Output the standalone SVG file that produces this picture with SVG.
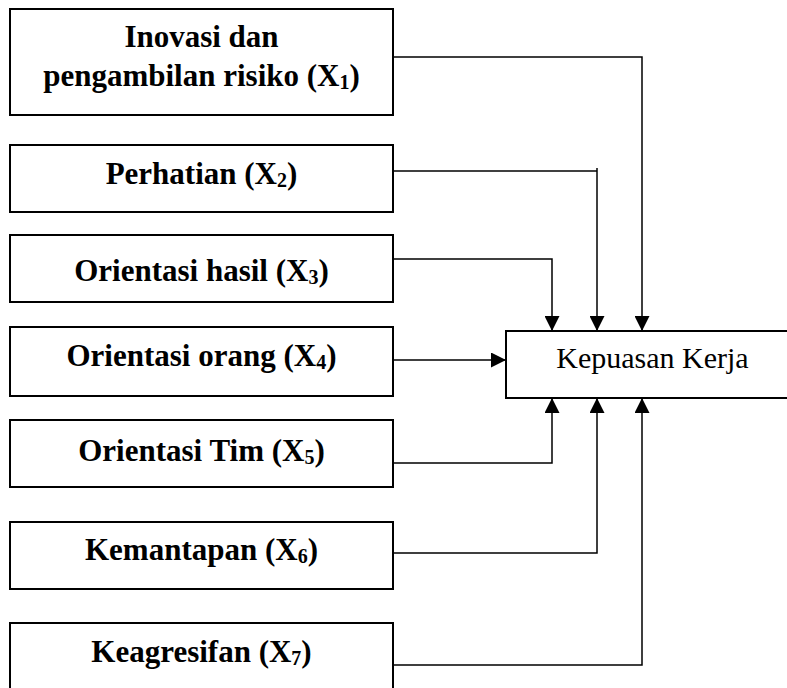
<svg xmlns="http://www.w3.org/2000/svg" width="787" height="688" viewBox="0 0 787 688">
<style>
.box{fill:#fff;stroke:#000;stroke-width:2}
.lbl{font-family:"Liberation Serif","Times New Roman",serif;font-weight:bold;font-size:31px;fill:#000;text-anchor:middle}
.tgt{font-family:"Liberation Serif","Times New Roman",serif;font-size:30px;fill:#000;text-anchor:middle}
.sub{font-size:20px}
.ln{fill:none;stroke:#000;stroke-width:1.5}
</style>
<defs>
<marker id="arr" markerUnits="userSpaceOnUse" markerWidth="15" markerHeight="15" refX="15" refY="7.5" orient="auto">
<path d="M0,0 L15,7.5 L0,15 z" fill="#000"/>
</marker>
</defs>
<rect width="787" height="688" fill="#fff"/>
<g id="connectors">
<path class="ln" d="M393,57 H642 V331" marker-end="url(#arr)"/>
<path class="ln" d="M393,171 H597" />
<path class="ln" d="M597,168 V331" marker-end="url(#arr)"/>
<path class="ln" d="M393,259 H552 V331" marker-end="url(#arr)"/>
<path class="ln" d="M393,360 H506" marker-end="url(#arr)"/>
<path class="ln" d="M393,463 H552 V398" marker-end="url(#arr)"/>
<path class="ln" d="M393,553 H597 V398" marker-end="url(#arr)"/>
<path class="ln" d="M393,665 H642 V398" marker-end="url(#arr)"/>
</g>
<g id="x1">
<rect class="box" x="10" y="9" width="383" height="106"/>
<text class="lbl" x="201.5" y="47">Inovasi dan</text>
<text class="lbl" x="201.5" y="86">pengambilan risiko (X<tspan class="sub" dy="3">1</tspan><tspan dy="-3">)</tspan></text>
</g>
<g id="x2">
<rect class="box" x="10" y="145" width="383" height="67"/>
<text class="lbl" x="201.5" y="184">Perhatian (X<tspan class="sub" dy="3">2</tspan><tspan dy="-3">)</tspan></text>
</g>
<g id="x3">
<rect class="box" x="10" y="235" width="383" height="67"/>
<text class="lbl" x="201.5" y="281">Orientasi hasil (X<tspan class="sub" dy="3">3</tspan><tspan dy="-3">)</tspan></text>
</g>
<g id="x4">
<rect class="box" x="10" y="327" width="383" height="69"/>
<text class="lbl" x="201.5" y="366">Orientasi orang (X<tspan class="sub" dy="3">4</tspan><tspan dy="-3">)</tspan></text>
</g>
<g id="x5">
<rect class="box" x="10" y="420" width="383" height="67"/>
<text class="lbl" x="201.5" y="461">Orientasi Tim (X<tspan class="sub" dy="3">5</tspan><tspan dy="-3">)</tspan></text>
</g>
<g id="x6">
<rect class="box" x="10" y="522" width="383" height="67"/>
<text class="lbl" x="201.5" y="560">Kemantapan (X<tspan class="sub" dy="3">6</tspan><tspan dy="-3">)</tspan></text>
</g>
<g id="x7">
<rect class="box" x="10" y="623" width="383" height="80"/>
<text class="lbl" x="201.5" y="662">Keagresifan (X<tspan class="sub" dy="3">7</tspan><tspan dy="-3">)</tspan></text>
</g>
<g id="y">
<rect class="box" x="506" y="331" width="300" height="67"/>
<text class="tgt" x="652.5" y="368">Kepuasan Kerja</text>
</g>
</svg>
